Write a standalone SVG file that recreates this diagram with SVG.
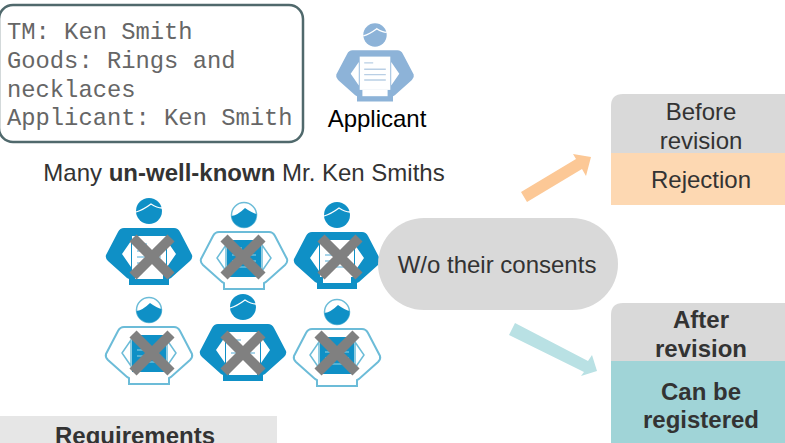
<svg xmlns="http://www.w3.org/2000/svg" xmlns:xlink="http://www.w3.org/1999/xlink" width="785" height="443" viewBox="0 0 785 443">
<style>
text{font-family:"Liberation Sans",Arial,sans-serif;font-size:24px;fill:#333;text-anchor:middle}
.b{font-weight:bold}
.mono{font-family:"Liberation Mono","Courier New",monospace;font-size:23.8px;fill:#666;text-anchor:start}
.x{stroke:#808080;stroke-width:10;fill:none}
</style>
<defs>
<path id="body" d="M-25,17 H25 Q29,17 31,21 L43,44 Q44,47 41,50 L22,67 L20,68 V74 H-20 V68 L-22,67 L-41,50 Q-44,47 -43,44 L-31,21 Q-29,17 -25,17 Z"/>
<path id="arms" d="M-18,30 L-27,43 L-18,56 Z M18,30 L27,43 L18,56 Z"/>
<g id="solid">
<circle r="13" fill="#0f90c6"/>
<path d="M-13,1 Q-6,-1 2,-7 Q8,-3 13,-3" fill="none" stroke="#fff" stroke-width="1.3"/>
<use xlink:href="#body" fill="#0f90c6"/>
<use xlink:href="#arms" fill="#fff"/>
<rect x="-17" y="25" width="34" height="37" fill="#fff"/>
<path d="M-12,33 H-2 M-12,40 H12 M-12,46 H12 M-12,52 H12" stroke="#8cc8e4" stroke-width="1.5"/>
<path d="M-14,62 H14 V68 H-14 Z" fill="#fff"/>
</g>
<g id="open">
<circle r="12.5" fill="#fff" stroke="#6cbcd8" stroke-width="1.5"/>
<path d="M-12.5,1 Q-6,0 1,-7 Q8,-2 12.5,-1 A12.5,12.5 0 0 1 -12.5,1 Z" fill="#0f90c6"/>
<use xlink:href="#body" fill="#fff" stroke="#6cbcd8" stroke-width="2"/>
<use xlink:href="#arms" fill="#fff" stroke="#6cbcd8" stroke-width="1.5"/>
<rect x="-17" y="25" width="34" height="37" fill="#0f90c6"/>
<path d="M-12,33 H-2 M-12,40 H12 M-12,46 H12 M-12,52 H12" stroke="#6cbcd8" stroke-width="1.5"/>
</g>
<path id="cross" class="x" d="M-19,-19 L19,19 M19,-19 L-19,19"/>
</defs>

<g id="connectors">
<polygon points="521,192 527,202 582,169 586,176 591,157 573,154 576,159" fill="#fcc896"/>
<polygon points="509,335 515,323 588,361 592,355 597,371 581,376 584,372" fill="#b9e1e4"/>
</g>

<g id="trademark">
<rect x="-1" y="5" width="304" height="137" rx="14" fill="#fff" stroke="#50696c" stroke-width="2.5"/>
<text class="mono" x="7" y="39">TM: Ken Smith</text>
<text class="mono" x="7" y="68">Goods: Rings and</text>
<text class="mono" x="7" y="97">necklaces</text>
<text class="mono" x="7" y="125">Applicant: Ken Smith</text>
</g>

<g id="applicant">
<g transform="translate(375,35) scale(.9)">
<circle r="13" fill="#8db3d8"/>
<path d="M-13,1 Q-6,-1 2,-7 Q8,-3 13,-3" fill="none" stroke="#fff" stroke-width="1.5"/>
<use xlink:href="#body" fill="#8db3d8"/>
<use xlink:href="#arms" fill="#fff"/>
<rect x="-17" y="24" width="34" height="37" fill="#fff"/>
<path d="M-12,31 H-2 M-12,38 H12 M-12,44 H12 M-12,50 H12" stroke="#b9cfe5" stroke-width="1.6"/>
<path d="M-14,61 H14 V68 H-14 Z" fill="#fff"/>
</g>
<text x="377" y="127" style="fill:#000">Applicant</text>
</g>

<g id="many-label"><text x="244" y="181">Many <tspan class="b">un-well-known</tspan> Mr. Ken Smiths</text></g>

<g id="person-1"><use xlink:href="#solid" x="149" y="211"/><use xlink:href="#cross" x="152" y="257"/></g>
<g id="person-2"><use xlink:href="#open" x="244" y="215"/><use xlink:href="#cross" x="243" y="257"/></g>
<g id="person-3"><use xlink:href="#solid" x="337" y="215"/><use xlink:href="#cross" x="340" y="257"/></g>
<g id="person-4"><use xlink:href="#open" x="149" y="310"/><use xlink:href="#cross" x="152" y="353"/></g>
<g id="person-5"><use xlink:href="#solid" x="243" y="307"/><use xlink:href="#cross" x="243" y="353"/></g>
<g id="person-6"><use xlink:href="#open" x="337" y="312"/><use xlink:href="#cross" x="337" y="353"/></g>

<g id="consents">
<rect x="378" y="218" width="240" height="92" rx="46" fill="#d9d9d9"/>
<text x="497" y="273">W/o their consents</text>
</g>

<g id="before">
<path d="M611,153 V106 Q611,94 623,94 H785 V153 Z" fill="#d9d9d9"/>
<rect x="611" y="153" width="174" height="52" fill="#fdd8b2"/>
<text x="701" y="120">Before</text>
<text x="701" y="149">revision</text>
<text x="701" y="188">Rejection</text>
</g>

<g id="after">
<path d="M611,361 V315 Q611,303 623,303 H785 V361 Z" fill="#d9d9d9"/>
<rect x="611" y="361" width="174" height="82" fill="#a0d4d7"/>
<text class="b" x="701" y="328">After</text>
<text class="b" x="701" y="357">revision</text>
<text class="b" x="701" y="400">Can be</text>
<text class="b" x="701" y="428">registered</text>
</g>

<g id="requirements">
<rect x="-1" y="416" width="278" height="28" fill="#e6e6e6"/>
<text class="b" x="135" y="444" style="font-size:24px">Requirements</text>
</g>
</svg>
